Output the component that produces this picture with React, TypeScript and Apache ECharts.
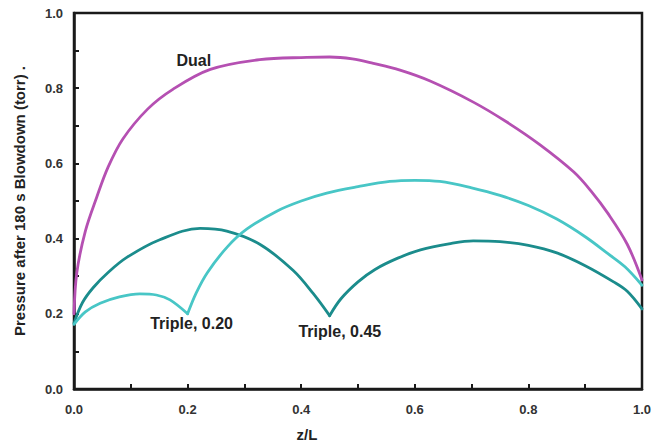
import React, { useEffect, useRef } from "react";
import * as echarts from "echarts";

const dualZ = [0, 0.005, 0.02, 0.04, 0.06, 0.086, 0.13, 0.174, 0.24, 0.327, 0.41, 0.45, 0.49, 0.527, 0.574, 0.627, 0.703, 0.762, 0.82, 0.88, 0.91, 0.94, 0.974, 1.0];
const dualV = [0.2, 0.31, 0.42, 0.51, 0.59, 0.665, 0.745, 0.797, 0.85, 0.876, 0.882, 0.883, 0.878, 0.866, 0.848, 0.819, 0.763, 0.71, 0.65, 0.577, 0.527, 0.467, 0.385, 0.29];

const t20Z = [0, 0.02, 0.046, 0.08, 0.116, 0.145, 0.169, 0.2, 0.215, 0.235, 0.27, 0.304, 0.357, 0.4, 0.445, 0.5, 0.556, 0.6, 0.644, 0.7, 0.75, 0.8, 0.85, 0.9, 0.94, 0.97, 1.0];
const t20V = [0.172, 0.205, 0.228, 0.245, 0.253, 0.25, 0.237, 0.2, 0.255, 0.31, 0.378, 0.425, 0.473, 0.5, 0.521, 0.538, 0.552, 0.555, 0.552, 0.535, 0.515, 0.488, 0.452, 0.405, 0.36, 0.325, 0.276];

const t45Z = [0, 0.015, 0.034, 0.06, 0.093, 0.151, 0.222, 0.269, 0.327, 0.386, 0.421, 0.45, 0.47, 0.5, 0.53, 0.57, 0.61, 0.66, 0.703, 0.75, 0.8, 0.85, 0.9, 0.95, 0.974, 1.0];
const t45V = [0.175, 0.23, 0.27, 0.31, 0.35, 0.397, 0.427, 0.42, 0.385, 0.315, 0.254, 0.195, 0.24, 0.285, 0.318, 0.348, 0.37, 0.386, 0.394, 0.392, 0.382, 0.362, 0.328, 0.285, 0.26, 0.213];

const seriesNames = ["Dual", "Triple, 0.20", "Triple, 0.45"];
const cusps = [null, 0.2, 0.45];
const labelPos = [
  [0.211, 0.874],
  [0.207, 0.174],
  [0.468, 0.153],
];
const colors = ["#b550b2", "#48c6c6", "#1b8c8c"];

const pairs = (z: number[], v: number[]) => z.map((x, i) => [x, v[i]]);

export default function App() {
  const ref = useRef<HTMLDivElement>(null);
  useEffect(() => {
    const chart = echarts.init(ref.current!, null, { renderer: "svg" });
    const font = "'Liberation Sans', Arial, sans-serif";
    const datasets = [pairs(dualZ, dualV), pairs(t20Z, t20V), pairs(t45Z, t45V)];
    const series: any[] = [];
    datasets.forEach((d, i) => {
      const c = cusps[i];
      const parts = c === null ? [d] : [d.filter((p) => p[0] <= c), d.filter((p) => p[0] >= c)];
      parts.forEach((part, j) => {
        series.push({
          type: "line",
          name: seriesNames[i],
          data: part,
          showSymbol: false,
          symbol: "none",
          smooth: 0.35,
          lineStyle: { color: colors[i], width: 2.8, join: "round", cap: "round" },
          z: 3 - i,
          markPoint:
            j === 0
              ? {
                  symbol: "circle",
                  symbolSize: 0,
                  silent: true,
                  data: [
                    {
                      coord: labelPos[i],
                      label: {
                        show: true,
                        position: "inside",
                        formatter: seriesNames[i],
                        fontFamily: font,
                        fontWeight: "bold",
                        fontSize: 16,
                        color: "#222",
                      },
                    },
                  ],
                }
              : undefined,
        });
      });
    });
    const axisCommon = {
      type: "value",
      min: 0,
      max: 1,
      interval: 0.1,
      axisLine: { show: true, lineStyle: { color: "#1a1a1a", width: 2.5 } },
      axisTick: { show: true, inside: true, length: 5, lineStyle: { color: "#1a1a1a", width: 2 } },
      splitLine: { show: false },
    };
    const labelCommon = {
      fontFamily: font,
      fontWeight: "bold",
      fontSize: 13,
      color: "#333",
      formatter: (v: number) => (Math.round(v * 10) % 2 === 0 ? v.toFixed(1) : ""),
    };
    chart.setOption({
      animation: false,
      backgroundColor: "#ffffff",
      grid: {
        left: 74,
        top: 13,
        width: 568,
        height: 380,
        show: true,
        borderColor: "#1a1a1a",
        borderWidth: 2.5,
        backgroundColor: "transparent",
      },
      xAxis: {
        ...axisCommon,
        name: "z/L",
        nameLocation: "middle",
        nameGap: 38,
        nameTextStyle: { fontFamily: font, fontWeight: "bold", fontSize: 15, color: "#222", padding: [0, 102, 0, 0] },
        axisLabel: { ...labelCommon, margin: 14 },
      },
      yAxis: {
        ...axisCommon,
        name: "Pressure after 180 s Blowdown (torr) .",
        nameLocation: "middle",
        nameGap: 47,
        nameRotate: 90,
        nameTextStyle: { fontFamily: font, fontWeight: "bold", fontSize: 15, color: "#222" },
        axisLabel: { ...labelCommon, margin: 11 },
      },
      series,
    });
    return () => chart.dispose();
  }, []);
  return (
    <div
      ref={ref}
      style={{ position: "absolute", left: 0, top: 0, width: 668, height: 447, background: "#fff" }}
    />
  );
}
